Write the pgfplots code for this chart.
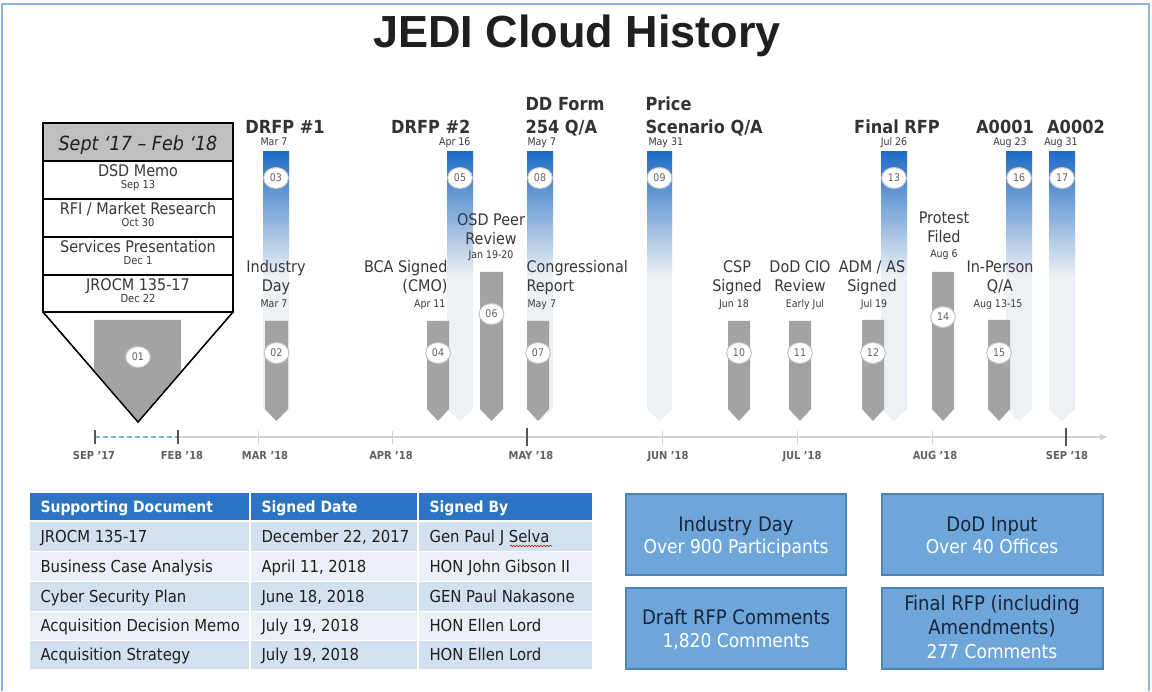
\documentclass[border=0pt]{standalone}
\usepackage{fontspec}
\setmainfont{DejaVu Sans Condensed}[BoldFont={DejaVu Sans Condensed Bold},ItalicFont={DejaVu Sans Condensed Oblique}]
\newfontfamily\titlefont{Liberation Sans}
\usepackage{pgfplots}
\pgfplotsset{compat=1.18}
\usetikzlibrary{arrows.meta,decorations.pathmorphing}

\definecolor{bblue}{HTML}{1F6CC4}
\definecolor{bfade}{HTML}{EDF0F4}
\definecolor{bgray}{HTML}{A3A3A3}
\definecolor{cgray}{HTML}{C4C4C4}
\definecolor{txt}{HTML}{383838}
\definecolor{hdr}{HTML}{BFBFBF}
\definecolor{tblhead}{HTML}{2C74C3}
\definecolor{rowa}{HTML}{D3E0EF}
\definecolor{rowb}{HTML}{EBF0F7}
\definecolor{boxfill}{HTML}{6EA6DA}
\definecolor{boxedge}{HTML}{4B83BF}
\definecolor{navy}{HTML}{17263D}
\definecolor{framec}{HTML}{8DB3E2}
\definecolor{tline}{HTML}{D2D2D2}
\definecolor{tdark}{HTML}{555555}
\definecolor{dashblue}{HTML}{7FB2D9}

\newcommand{\fbig}{\fontsize{18}{20}\selectfont\bfseries}
\newcommand{\fmid}{\fontsize{16}{18}\selectfont}
\newcommand{\fdate}{\fontsize{10.5}{12}\selectfont}

% blue event bar: xl, xr, xm
\newcommand{\bluebar}[3]{%
  \addplot[fill=bfade, draw=none] coordinates {(#1,152) (#2,152) (#2,409) (#3,421) (#1,409)} -- cycle;
  \addplot[draw=none, top color=bblue, middle color=bblue!72!bfade, bottom color=bfade] coordinates {(#1,152) (#2,152) (#2,276) (#1,276)} -- cycle;
}
% gray event bar: xl, xr, xm, top
\newcommand{\graybar}[4]{%
  \addplot[fill=bgray, draw=none] coordinates {(#1,#4) (#2,#4) (#2,409) (#3,421) (#1,409)} -- cycle;
}
% rectangle: x1,y1,x2,y2,style
\newcommand{\rect}[5]{%
  \addplot[#5] coordinates {(#1,#2) (#3,#2) (#3,#4) (#1,#4)} -- cycle;
}

\begin{document}
\begin{tikzpicture}
\begin{axis}[
  scale only axis, width=1152pt, height=691pt,
  xmin=0, xmax=1152, ymin=0, ymax=691, y dir=reverse,
  hide axis, clip=false,
]
% background and frame
\rect{0}{0}{1152}{691}{fill=white, draw=none}
\addplot[draw=framec, line width=2pt] coordinates {(2,691) (2,4) (1149,4) (1149,691)};

% title
\node[anchor=base, font=\titlefont\fontsize{45}{50}\selectfont\bfseries, text=black!88] at (axis cs:577,48) {JEDI Cloud History};

% ---- left box ----
\addplot[fill=white, draw=black, line width=1.3pt] coordinates {(43,312) (233,312) (138,422)} -- cycle;
\addplot[fill=bgray, draw=none] coordinates {(94,320) (181,320) (181,371) (138,421) (94,371)} -- cycle;
\addplot[draw=black, line width=1.3pt] coordinates {(43,312) (138,422) (233,312)};
\rect{43}{123}{233}{312}{fill=white, draw=none}
\rect{43}{123}{233}{161}{fill=hdr, draw=none}
\addplot[draw=black, line width=1.2pt] coordinates {(43,161) (233,161)};
\addplot[draw=black, line width=1.2pt] coordinates {(43,199) (233,199)};
\addplot[draw=black, line width=1.2pt] coordinates {(43,237) (233,237)};
\addplot[draw=black, line width=1.2pt] coordinates {(43,275) (233,275)};
\rect{43}{123}{233}{312}{draw=black, line width=1.4pt}

\node[anchor=base, font=\fontsize{19.5}{21}\selectfont\itshape, text=black!88] at (axis cs:138,151) {Sept ‘17 – Feb ‘18};
\node[anchor=base, font=\fmid, text=txt] at (axis cs:138,177) {DSD Memo};
\node[anchor=base, font=\fontsize{11}{12}\selectfont, text=txt] at (axis cs:138,189) {Sep 13};
\node[anchor=base, font=\fmid, text=txt] at (axis cs:138,215) {RFI / Market Research};
\node[anchor=base, font=\fontsize{11}{12}\selectfont, text=txt] at (axis cs:138,227) {Oct 30};
\node[anchor=base, font=\fmid, text=txt] at (axis cs:138,253) {Services Presentation};
\node[anchor=base, font=\fontsize{11}{12}\selectfont, text=txt] at (axis cs:138,265) {Dec 1};
\node[anchor=base, font=\fmid, text=txt] at (axis cs:138,291) {JROCM 135-17};
\node[anchor=base, font=\fontsize{11}{12}\selectfont, text=txt] at (axis cs:138,303) {Dec 22};

% ---- blue bars ----
\bluebar{263}{289}{276}
\bluebar{447}{473}{460}
\bluebar{527}{553}{540}
\bluebar{647}{672}{659.5}
\bluebar{881}{907}{894}
\bluebar{1006}{1032}{1019}
\bluebar{1049}{1075}{1062}

% ---- gray bars ----
\graybar{265}{288}{276.5}{321}
\graybar{427}{449}{438}{321}
\graybar{480}{503}{491.5}{272}
\graybar{527}{549}{538}{321}
\graybar{728}{750}{739}{321}
\graybar{789}{811}{800}{321}
\graybar{862}{884}{873}{320}
\graybar{932}{954}{943}{272}
\graybar{988}{1010}{999}{320}

% ---- numbered circles ----
\addplot[only marks, mark=*, mark size=10.5pt,
  mark options={fill=white, draw=cgray, line width=1pt, xscale=1.18},
  nodes near coords, point meta=explicit symbolic,
  every node near coord/.append style={anchor=center, font=\fontsize{10.5}{11}\selectfont, text=black!62}]
  table[meta=lab] {
x y lab
138 357 01
276.5 353 02
276 178 03
438 353 04
460 178 05
491.5 314 06
538 353 07
540 178 08
659.5 178 09
739 353 10
800 353 11
873 353 12
894 178 13
943 317 14
999 353 15
1019 178 16
1062 178 17
};

% ---- timeline ----
\addplot[draw=tline, line width=1.5pt, -{Triangle[length=7pt,width=6pt]}] coordinates {(178,437) (1107,437)};
\addplot[draw=dashblue, line width=1.2pt, dash pattern=on 5pt off 3pt] coordinates {(95,437) (178,437)};
\addplot[draw=tdark, line width=1.2pt] coordinates {(95,430) (95,444)};
\addplot[draw=tdark, line width=1.2pt] coordinates {(178,430) (178,444)};
\addplot[draw=tdark, line width=1.2pt] coordinates {(527,428) (527,446)};
\addplot[draw=tdark, line width=1.2pt] coordinates {(1066,428) (1066,446)};
\addplot[draw=tline, line width=1pt] coordinates {(258,431) (258,444)};
\addplot[draw=tline, line width=1pt] coordinates {(392,431) (392,444)};
\addplot[draw=tline, line width=1pt] coordinates {(662,431) (662,444)};
\addplot[draw=tline, line width=1pt] coordinates {(797,431) (797,444)};
\addplot[draw=tline, line width=1pt] coordinates {(932,431) (932,444)};

\begin{scope}[every node/.style={anchor=base, font=\fontsize{11}{12}\selectfont\bfseries, text=black!62}]
\node at (axis cs:94,460) {SEP ’17};
\node at (axis cs:182,460) {FEB ’18};
\node at (axis cs:265,460) {MAR ’18};
\node at (axis cs:391,460) {APR ’18};
\node at (axis cs:531,460) {MAY ’18};
\node at (axis cs:668,460) {JUN ’18};
\node at (axis cs:802,460) {JUL ’18};
\node at (axis cs:935,460) {AUG ’18};
\node at (axis cs:1067,460) {SEP ’18};
\end{scope}

% ---- upper labels ----
\begin{scope}[every node/.style={font=\fbig, text=black!80}]
\node[anchor=base] at (axis cs:285,134) {DRFP \#1};
\node[anchor=base east] at (axis cs:474,134) {DRFP \#2};
\node[anchor=base west] at (axis cs:522,111) {DD Form};
\node[anchor=base west] at (axis cs:522,134) {254 Q/A};
\node[anchor=base west] at (axis cs:642,111) {Price};
\node[anchor=base west] at (axis cs:642,134) {Scenario Q/A};
\node[anchor=base] at (axis cs:897,134) {Final RFP};
\node[anchor=base] at (axis cs:1005,134) {A0001};
\node[anchor=base] at (axis cs:1076,134) {A0002};
\end{scope}
\begin{scope}[every node/.style={font=\fdate, text=txt}]
\node[anchor=base] at (axis cs:274,146) {Mar 7};
\node[anchor=base east] at (axis cs:474,146) {Apr 16};
\node[anchor=base west] at (axis cs:524,146) {May 7};
\node[anchor=base west] at (axis cs:645,146) {May 31};
\node[anchor=base] at (axis cs:894,146) {Jul 26};
\node[anchor=base] at (axis cs:1010,146) {Aug 23};
\node[anchor=base] at (axis cs:1061,146) {Aug 31};
\end{scope}

% ---- lower labels ----
\begin{scope}[every node/.style={font=\fmid, text=txt}]
\node[anchor=base] at (axis cs:276,273) {Industry};
\node[anchor=base] at (axis cs:276,292) {Day};
\node[anchor=base east] at (axis cs:451,273) {BCA Signed};
\node[anchor=base east] at (axis cs:451,292) {(CMO)};
\node[anchor=base] at (axis cs:491,226) {OSD Peer};
\node[anchor=base] at (axis cs:491,245) {Review};
\node[anchor=base west] at (axis cs:523,273) {Congressional};
\node[anchor=base west] at (axis cs:523,292) {Report};
\node[anchor=base] at (axis cs:737,273) {CSP};
\node[anchor=base] at (axis cs:737,292) {Signed};
\node[anchor=base] at (axis cs:800,273) {DoD CIO};
\node[anchor=base] at (axis cs:800,292) {Review};
\node[anchor=base] at (axis cs:872,273) {ADM / AS};
\node[anchor=base] at (axis cs:872,292) {Signed};
\node[anchor=base] at (axis cs:944,224) {Protest};
\node[anchor=base] at (axis cs:944,243) {Filed};
\node[anchor=base] at (axis cs:1000,273) {In-Person};
\node[anchor=base] at (axis cs:1000,292) {Q/A};
\end{scope}
\begin{scope}[every node/.style={font=\fdate, text=txt}]
\node[anchor=base] at (axis cs:274,308) {Mar 7};
\node[anchor=base east] at (axis cs:449,308) {Apr 11};
\node[anchor=base] at (axis cs:491,259) {Jan 19-20};
\node[anchor=base west] at (axis cs:524,308) {May 7};
\node[anchor=base] at (axis cs:734,308) {Jun 18};
\node[anchor=base] at (axis cs:805,308) {Early Jul};
\node[anchor=base] at (axis cs:874,308) {Jul 19};
\node[anchor=base] at (axis cs:944,258) {Aug 6};
\node[anchor=base] at (axis cs:998,308) {Aug 13-15};
\end{scope}

% ---- table ----
\rect{30}{493}{592}{521}{fill=tblhead, draw=none}
\rect{30}{521}{592}{551}{fill=rowa, draw=none}
\rect{30}{551}{592}{581}{fill=rowb, draw=none}
\rect{30}{581}{592}{611}{fill=rowa, draw=none}
\rect{30}{611}{592}{640}{fill=rowb, draw=none}
\rect{30}{640}{592}{669}{fill=rowa, draw=none}
\addplot[draw=white, line width=1.5pt] coordinates {(250,493) (250,669)};
\addplot[draw=white, line width=1.5pt] coordinates {(418,493) (418,669)};
\addplot[draw=white, line width=1.5pt] coordinates {(30,521) (592,521)};
\addplot[draw=white, line width=0.8pt] coordinates {(30,551) (592,551)};
\addplot[draw=white, line width=0.8pt] coordinates {(30,581) (592,581)};
\addplot[draw=white, line width=0.8pt] coordinates {(30,611) (592,611)};
\addplot[draw=white, line width=0.8pt] coordinates {(30,640) (592,640)};

\begin{scope}[every node/.style={anchor=base west, font=\fontsize{15.5}{17}\selectfont\bfseries, text=white}]
\node at (axis cs:37,513) {Supporting Document};
\node at (axis cs:258,513) {Signed Date};
\node at (axis cs:426,513) {Signed By};
\end{scope}
\begin{scope}[every node/.style={anchor=base west, font=\fontsize{16.5}{18}\selectfont, text=black!88}]
\node at (axis cs:37,542) {JROCM 135-17};
\node at (axis cs:258,542) {December 22, 2017};
\node at (axis cs:426,542) {Gen Paul J Selva};
\node at (axis cs:37,572) {Business Case Analysis};
\node at (axis cs:258,572) {April 11, 2018};
\node at (axis cs:426,572) {HON John Gibson II};
\node at (axis cs:37,602) {Cyber Security Plan};
\node at (axis cs:258,602) {June 18, 2018};
\node at (axis cs:426,602) {GEN Paul Nakasone};
\node at (axis cs:37,631) {Acquisition Decision Memo};
\node at (axis cs:258,631) {July 19, 2018};
\node at (axis cs:426,631) {HON Ellen Lord};
\node at (axis cs:37,660) {Acquisition Strategy};
\node at (axis cs:258,660) {July 19, 2018};
\node at (axis cs:426,660) {HON Ellen Lord};
\end{scope}
\addplot[draw=red!80!black, line width=0.6pt, decorate, decoration={snake, amplitude=0.7pt, segment length=3pt}] coordinates {(510,546) (552,546)};

% ---- summary boxes ----
\rect{626}{494}{846}{575}{fill=boxfill, draw=boxedge, line width=1.5pt}
\rect{882}{494}{1103}{575}{fill=boxfill, draw=boxedge, line width=1.5pt}
\rect{626}{588}{846}{669}{fill=boxfill, draw=boxedge, line width=1.5pt}
\rect{882}{588}{1103}{669}{fill=boxfill, draw=boxedge, line width=1.5pt}

\begin{scope}[every node/.style={anchor=base, font=\fontsize{20}{22}\selectfont, text=navy}]
\node at (axis cs:736,531) {Industry Day};
\node at (axis cs:992,531) {DoD Input};
\node at (axis cs:736,624) {Draft RFP Comments};
\node at (axis cs:992,610) {Final RFP (including};
\node at (axis cs:992,634) {Amendments)};
\end{scope}
\begin{scope}[every node/.style={anchor=base, font=\fontsize{19}{21}\selectfont, text=white}]
\node at (axis cs:736,554) {Over 900 Participants};
\node at (axis cs:992,554) {Over 40 Offices};
\node at (axis cs:736,647) {1,820 Comments};
\node at (axis cs:992,658) {277 Comments};
\end{scope}
\end{axis}
\end{tikzpicture}
\end{document}
